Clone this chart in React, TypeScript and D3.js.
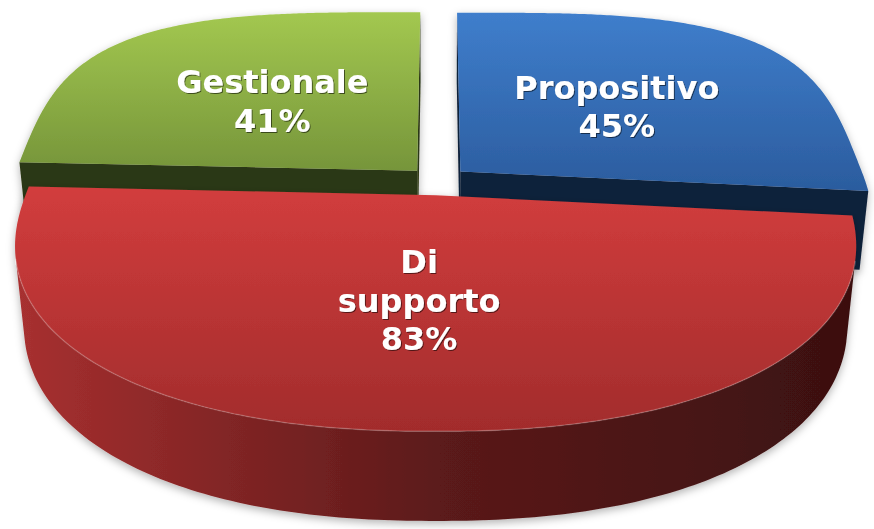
import * as d3 from "d3";

// survey answers (multiple choice, so percentages do not add up to 100)
const categories = ["Propositivo", "Di supporto", "Gestionale"];
const values = [45, 83, 41];

const topColors = [
  ["#3f7ecc", "#2b5c9e"],
  ["#d23d3d", "#a22c2c"],
  ["#a3c850", "#76953a"],
];
const sideColors = [
  ["#1a3356", "#10203a"],
  ["#a83030", "#3a1010"],
  ["#35421a", "#2c3712"],
];

const W = 874;
const H = 529;

// simple perspective camera looking down on the pie
const ELEV = (27.9 * Math.PI) / 180;
const SIN_E = Math.sin(ELEV);
const COS_E = Math.cos(ELEV);
const DIST = 5.09;
const FOCAL = 2061;
const CX = 438;
const CY = 181;
const THICK = 0.223;
const EXPLODE = 0.075;
// the excel pie is a bit boxy at the back, rounder at the front
const SQ_BACK = 3.4;
const SQ_FRONT = 2.25;
const LABEL_R = 0.49;
const LINE_H = 38.5;
const CAP = 25;
const CAM = [0, DIST * SIN_E, DIST * COS_E];

type P3 = [number, number, number];

function project(p: P3): [number, number] {
  const [x, y, z] = p;
  const v = y * COS_E - z * SIN_E;
  const w = DIST - (z * COS_E + y * SIN_E);
  return [CX + (FOCAL * x) / w, CY - (FOCAL * v) / w];
}

function facing(n: P3, p: P3) {
  return n[0] * (CAM[0] - p[0]) + n[1] * (CAM[1] - p[1]) + n[2] * (CAM[2] - p[2]) > 0;
}

const spow = (v: number, e: number) => Math.sign(v) * Math.pow(Math.abs(v), e);
const sq = (t: number) => (Math.cos(t) > 0 ? SQ_BACK : SQ_FRONT);
// polar radius of the superellipse along angle t (clockwise from the back)
const radius = (t: number) =>
  Math.pow(Math.pow(Math.abs(Math.sin(t)), sq(t)) + Math.pow(Math.abs(Math.cos(t)), sq(t)), -1 / sq(t));
const shapeX = (t: number) => radius(t) * Math.sin(t);
const shapeZ = (t: number) => -radius(t) * Math.cos(t);

const line = d3.line<[number, number]>().curve(d3.curveLinearClosed);
const openLine = d3.line<[number, number]>();

function buildSlices() {
  const arcs = d3.pie<number>().sort(null).value((d) => d)(values);
  return arcs.map((a, i) => {
    const a0 = a.startAngle;
    const a1 = a.endAngle;
    const mid = (a0 + a1) / 2;
    const ox = EXPLODE * Math.sin(mid);
    const oz = -EXPLODE * Math.cos(mid);
    const rim = (t: number, y: number): P3 => [ox + shapeX(t), y, oz + shapeZ(t)];
    const apex = (y: number): P3 => [ox, y, oz];
    const n = 200;
    const steps = d3.range(n + 1).map((k) => a0 + ((a1 - a0) * k) / n);

    const top = line([apex(0), ...steps.map((t) => rim(t, 0))].map(project));

    const vis = steps.filter((t) =>
      facing([spow(shapeX(t), sq(t) - 1), 0, spow(shapeZ(t), sq(t) - 1)], rim(t, 0))
    );
    const side =
      vis.length > 1
        ? line([
            ...vis.map((t) => project(rim(t, 0))),
            ...vis
              .slice()
              .reverse()
              .map((t) => project(rim(t, -THICK))),
          ])
        : null;
    const edge = vis.length > 1 ? openLine(vis.map((t) => project(rim(t, 0)))) : null;

    const cuts: string[] = [];
    const cutFace = (t: number, nrm: P3) => {
      if (facing(nrm, rim(t, 0))) {
        cuts.push(line([apex(0), rim(t, 0), rim(t, -THICK), apex(-THICK)].map(project)) as string);
      }
    };
    cutFace(a0, [-Math.cos(a0), 0, -Math.sin(a0)]);
    cutFace(a1, [Math.cos(a1), 0, Math.sin(a1)]);

    const [lx, ly] = project([ox + LABEL_R * shapeX(mid), 0, oz + LABEL_R * shapeZ(mid)]);
    const lines = [...categories[i].split(" "), `${values[i]}%`];

    return { i, oz, top, side, edge, cuts, lx, ly, lines };
  });
}

export default function App() {
  const slices = buildSlices();
  const order = slices.slice().sort((a, b) => a.oz - b.oz);

  return (
    <svg
      width={W}
      height={H}
      style={{ position: "absolute", left: 0, top: 0, background: "#fff" }}
    >
      <defs>
        {slices.map((s) => (
          <g key={s.i}>
            <linearGradient id={`top${s.i}`} x1="0" y1="0" x2="0" y2="1">
              <stop offset="0" stopColor={topColors[s.i][0]} />
              <stop offset="1" stopColor={topColors[s.i][1]} />
            </linearGradient>
            <linearGradient
              id={`side${s.i}`}
              gradientUnits="userSpaceOnUse"
              x1="15"
              y1="0"
              x2="865"
              y2="0"
            >
              <stop offset="0" stopColor={sideColors[s.i][0]} />
              <stop offset="0.5" stopColor={d3.interpolateRgb(sideColors[s.i][0], sideColors[s.i][1])(0.7)} />
              <stop offset="1" stopColor={sideColors[s.i][1]} />
            </linearGradient>
          </g>
        ))}
        <filter id="shadow" x="-10%" y="-10%" width="120%" height="130%">
          <feDropShadow dx="0" dy="3" stdDeviation="4" floodColor="#000" floodOpacity="0.3" />
        </filter>
        <filter id="txt" x="-10%" y="-20%" width="120%" height="140%">
          <feDropShadow dx="1" dy="1" stdDeviation="0.6" floodColor="#000" floodOpacity="0.55" />
        </filter>
      </defs>

      {order.map((s) => (
        <g key={s.i} filter="url(#shadow)">
          {s.cuts.map((c, k) => (
            <path key={k} d={c} fill={sideColors[s.i][1]} />
          ))}
          {s.side && <path d={s.side} fill={`url(#side${s.i})`} />}
          <path d={s.top as string} fill={`url(#top${s.i})`} />
          {s.edge && (
            <path d={s.edge} fill="none" stroke="#fff" strokeOpacity={0.18} strokeWidth={1.5} />
          )}
        </g>
      ))}

      {slices.map((s) => (
        <text
          key={s.i}
          textAnchor="middle"
          fill="#fff"
          fontFamily="'DejaVu Sans', Verdana, sans-serif"
          fontWeight="bold"
          fontSize={32}
          filter="url(#txt)"
        >
          {s.lines.map((t, k) => (
            <tspan
              key={k}
              x={s.lx}
              y={s.ly - ((s.lines.length - 1) * LINE_H) / 2 + CAP / 2 + k * LINE_H}
            >
              {t}
            </tspan>
          ))}
        </text>
      ))}
    </svg>
  );
}
